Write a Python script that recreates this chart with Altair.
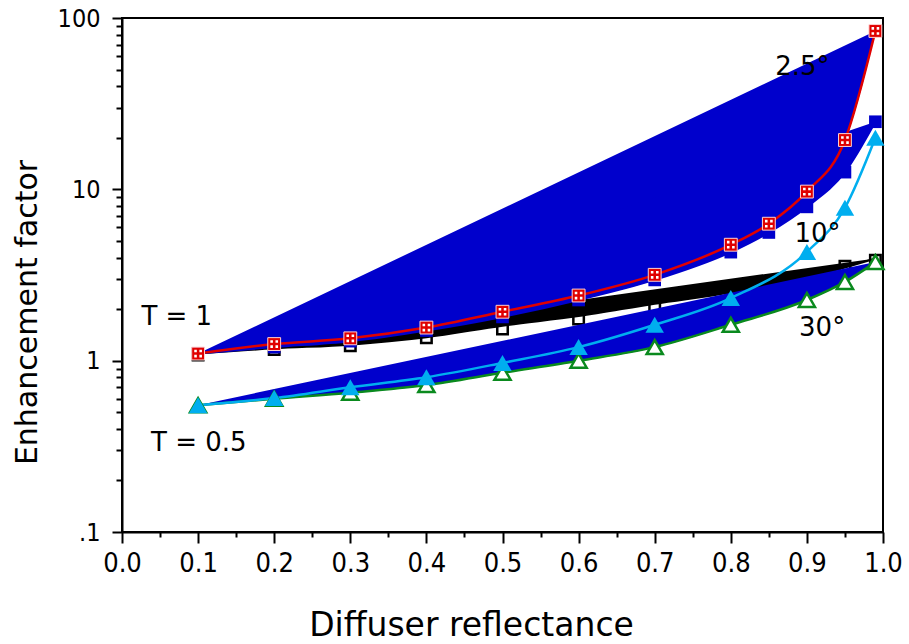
import altair as alt
import pandas as pd

# ---- data ----
x_sq = [0.1, 0.2, 0.3, 0.4, 0.5, 0.6, 0.7, 0.8, 0.85, 0.9, 0.95, 0.99]
red_25_T1 = [1.1, 1.25, 1.35, 1.56, 1.93, 2.4, 3.17, 4.75, 6.3, 9.7, 19.4, 84]
blue_10_T1 = [1.1, 1.2, 1.3, 1.5, 1.8, 2.26, 2.96, 4.3, 5.6, 7.9, 12.6, 24.8]

x_open = [0.1, 0.2, 0.3, 0.4, 0.5, 0.6, 0.7, 0.8, 0.9, 0.95, 0.99]
black_30_T1 = [1.08, 1.16, 1.22, 1.36, 1.53, 1.75, 2.08, 2.45, 3.1, 3.56, 3.86]
# lower edge of the black band as drawn in the reference
black_band_T1 = [1.1, 1.18, 1.24, 1.37, 1.6, 1.82, 2.15, 2.5, 3.05, 3.5, 3.95]

x_tri = [0.1, 0.2, 0.3, 0.4, 0.5, 0.6, 0.7, 0.8, 0.9, 0.95, 0.99]
green_30_T05 = [0.55, 0.6, 0.65, 0.72, 0.85, 1.0, 1.2, 1.62, 2.26, 2.88, 3.76]
cyan_10_T05 = [0.55, 0.605, 0.7, 0.8, 0.97, 1.2, 1.62, 2.32, 4.31, 7.8, 20]

x_major = [0.0, 0.1, 0.2, 0.3, 0.4, 0.5, 0.6, 0.7, 0.8, 0.9, 1.0]
x_minor = [0.05, 0.15, 0.25, 0.35, 0.45, 0.55, 0.65, 0.75, 0.85, 0.95]
y_major = [0.1, 1, 10, 100]
y_minor = [0.2, 0.3, 0.4, 0.5, 0.6, 0.7, 0.8, 0.9,
           2, 3, 4, 5, 6, 7, 8, 9,
           20, 30, 40, 50, 60, 70, 80, 90]

labels = ["2.5°", "10°", "30°", "T = 1", "T = 0.5"]
label_x = [0.894, 0.914, 0.920, 0.072, 0.101]
label_y = [52, 5.5, 1.55, 1.8, 0.33]

BLUE = "#0000CC"
RED = "#E00000"
CYAN = "#00AEEF"
GREEN = "#0A8A1E"
FONT = "DejaVu Sans"
NARROW = "DejaVu Sans Condensed, Liberation Sans Narrow, DejaVu Sans"

df_red = pd.DataFrame({"x": x_sq, "y": red_25_T1})
df_blue = pd.DataFrame({"x": x_sq, "y": blue_10_T1})
df_black = pd.DataFrame({"x": x_open, "y": black_30_T1})
df_band = pd.DataFrame({"x": x_open, "y": black_band_T1})
df_green = pd.DataFrame({"x": x_tri, "y": green_30_T05})
df_cyan = pd.DataFrame({"x": x_tri, "y": cyan_10_T05})
df_lab = pd.DataFrame({"x": label_x, "y": label_y, "t": labels})

xs = alt.Scale(domain=[0, 1], nice=False, zero=False)
ys = alt.Scale(type="log", domain=[0.1, 100], nice=False)


def X(axis=None):
    if axis is None:
        return alt.X("x:Q", scale=xs, axis=None)
    return alt.X("x:Q", scale=xs, axis=axis)


def Y(axis=None):
    if axis is None:
        return alt.Y("y:Q", scale=ys, axis=None)
    return alt.Y("y:Q", scale=ys, axis=axis)


x_axis_major = alt.Axis(
    orient="bottom", values=x_major, format=".1f", tickSize=11, tickWidth=2,
    labelFontSize=27, labelPadding=7, labelFont=NARROW, labelColor="black",
    labelFlush=False, labelOverlap=False,
    title="Diffuser reflectance", titleFontSize=33, titleFont=FONT,
    titleFontWeight="normal", titleX=349, titleY=103, titleBaseline="alphabetic",
    titleAlign="center", domainWidth=2, domainColor="black", tickColor="black",
    grid=False,
)
y_axis_major = alt.Axis(
    orient="left", values=y_major, tickSize=10, tickWidth=2,
    labelExpr="datum.value >= 100 ? '100' : datum.value >= 10 ? '10' : datum.value >= 1 ? '1' : '.1'",
    labelFontSize=25, labelPadding=12, labelFont=NARROW, labelColor="black",
    labelFlush=False, labelOverlap=False,
    title="Enhancement factor", titleFontSize=30, titleFont=FONT,
    titleFontWeight="normal", titleX=-86, titleY=294, titleAngle=270,
    titleBaseline="alphabetic", titleAlign="center",
    domainWidth=2, domainColor="black", tickColor="black", grid=False,
)
x_axis_minor = alt.Axis(
    orient="bottom", values=x_minor, tickSize=5, tickWidth=2, labels=False,
    domain=False, title="", tickColor="black", grid=False,
)
y_axis_minor = alt.Axis(
    orient="left", values=y_minor, tickSize=6, tickWidth=2, labels=False,
    domain=False, title="", tickColor="black", grid=False,
)

black_pts = alt.Chart(df_black).mark_point(
    shape="square", size=110, filled=False, fill="white", fillOpacity=1,
    stroke="black", strokeWidth=2.5, opacity=1
).encode(x=X(x_axis_major), y=Y(y_axis_major))

# filled polygons (each series path closed by a straight chord)
black_fill = alt.Chart(df_band).mark_line(
    fill="black", stroke="black", strokeWidth=2, interpolate="monotone"
).encode(x=X(), y=Y())

red_fill = alt.Chart(df_red).mark_line(
    fill=BLUE, stroke=BLUE, strokeWidth=1, interpolate="monotone"
).encode(x=X(x_axis_minor), y=Y(y_axis_minor))

blue_fill = alt.Chart(df_blue).mark_line(
    fill=BLUE, stroke=BLUE, strokeWidth=2, interpolate="monotone"
).encode(x=X(), y=Y())

green_fill = alt.Chart(df_green).mark_line(
    fill=BLUE, stroke=BLUE, strokeWidth=1, interpolate="monotone"
).encode(x=X(), y=Y())

red_line = alt.Chart(df_red).mark_line(
    stroke=RED, strokeWidth=2.5, interpolate="monotone"
).encode(x=X(), y=Y())
green_line = alt.Chart(df_green).mark_line(
    stroke=GREEN, strokeWidth=2.5, interpolate="monotone"
).encode(x=X(), y=Y())
cyan_line = alt.Chart(df_cyan).mark_line(
    stroke=CYAN, strokeWidth=2.5, interpolate="monotone"
).encode(x=X(), y=Y())

green_pts = alt.Chart(df_green).mark_point(
    shape="triangle-up", size=260, filled=False, fill="white", fillOpacity=1,
    stroke=GREEN, strokeWidth=2.5, opacity=1
).encode(x=X(), y=Y())
blue_pts = alt.Chart(df_blue).mark_point(
    shape="square", size=160, filled=True, fill=BLUE, opacity=1
).encode(x=X(), y=Y())
red_pts = alt.Chart(df_red).mark_point(
    shape="square", size=165, filled=True, fill=RED, stroke="#FFD0D0",
    strokeWidth=1, opacity=1
).encode(x=X(), y=Y())
red_dots = alt.Chart(df_red).mark_point(
    shape="M-0.6,-0.6h0.4v0.4h-0.4z M0.2,-0.6h0.4v0.4h-0.4z M-0.6,0.2h0.4v0.4h-0.4z M0.2,0.2h0.4v0.4h-0.4z",
    size=165, filled=True, fill="white", opacity=1
).encode(x=X(), y=Y())
cyan_pts = alt.Chart(df_cyan).mark_point(
    shape="triangle-up", size=340, filled=True, fill=CYAN, opacity=1
).encode(x=X(), y=Y())

texts = alt.Chart(df_lab).mark_text(
    font=FONT, fontSize=26, color="black", align="center", baseline="middle"
).encode(x=X(), y=Y(), text="t:N")

chart = alt.layer(
    black_pts, black_fill, red_fill, blue_fill, green_fill,
    red_line, green_line, cyan_line,
    green_pts, blue_pts, red_pts, red_dots, cyan_pts,
    texts,
).resolve_scale(x="independent", y="independent").properties(
    width=761, height=514,
    autosize=alt.AutoSizeParams(type="none"),
    padding={"left": 122, "top": 18, "right": 26, "bottom": 112},
    background="white",
).configure_view(stroke="black", strokeWidth=2)

chart.save("out.html", embed_options={"renderer": "svg", "actions": False})
